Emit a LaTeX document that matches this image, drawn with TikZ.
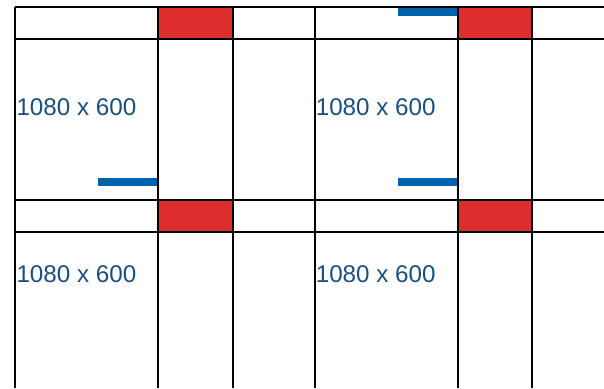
\documentclass[tikz,border=0pt]{standalone}
\usepackage{fontspec}
\setmainfont{Liberation Sans}
\usetikzlibrary{positioning}
\definecolor{cellred}{HTML}{DE2D2D}
\definecolor{barblue}{HTML}{0062A8}
\definecolor{labelblue}{HTML}{1B4F7E}
\tikzset{
  gridline/.style={draw=black, line width=1.2pt},
  redcell/.style={fill=cellred},
  bluebar/.style={fill=barblue},
  sizelabel/.style={text=labelblue, anchor=west, inner sep=0pt,
              font=\fontsize{24.2}{29}\selectfont},
}
\begin{document}
\begin{tikzpicture}[x=1pt, y=-1pt]
\useasboundingbox (0,0) rectangle (604,388);
% red cells in the thin rows
\foreach \cx in {158,458}
  \foreach \cy in {7,200}
    \fill[redcell] (\cx,\cy) rectangle (\cx+75,\cy+32);
% blue markers
\fill[bluebar] (98,178) rectangle (158,186);
\fill[bluebar] (398,178) rectangle (458,186);
\fill[bluebar] (398,7) rectangle (458,16);
% grid
\foreach \gx in {15,158,233,315,458,532}
  \draw[gridline] (\gx,7) -- (\gx,388);
\foreach \gy in {7,39,200,232}
  \draw[gridline] (15,\gy) -- (604,\gy);
% labels
\node[sizelabel] (tl) at (16.3,107.5) {1080 x 600};
\node[sizelabel] (tr) at (315.6,107.5) {1080 x 600};
\node[sizelabel] (bl) at (16.3,274) {1080 x 600};
\node[sizelabel] (br) at (315.6,274) {1080 x 600};
\end{tikzpicture}
\end{document}
